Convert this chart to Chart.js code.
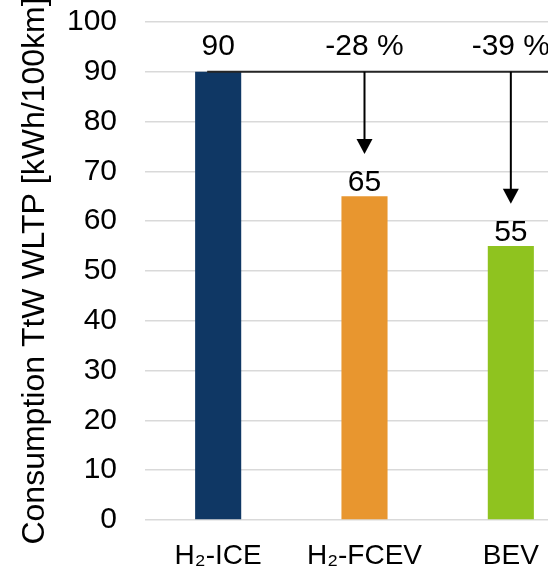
<!DOCTYPE html>
<html>
<head>
<meta charset="utf-8">
<script src="https://cdn.jsdelivr.net/npm/chart.js@4/dist/chart.umd.min.js"></script>
<style>
    html, body { margin: 0; padding: 0; background: #fff; overflow: hidden; }
    #clip { width: 548px; height: 574px; overflow: hidden; position: relative; }
    #wrap { width: 584px; height: 574px; position: absolute; left: 0; top: 0; }
</style>
</head>
<body>
<div id="clip"><div id="wrap"><canvas id="chart"></canvas></div></div>
<script>
const categories = ['H\u2082-ICE', 'H\u2082-FCEV', 'BEV']
const consumption = [90, 65, 55]
const reductionLabels = ['', '-28 %', '-39 %']
const barColors = ['#0f3764', '#e8962f', '#8fc31f']
const yTicks = [0, 10, 20, 30, 40, 50, 60, 70, 80, 90, 100]

const FONT = 'Arial, "Liberation Sans", sans-serif'

// reference line at the H2-ICE value, arrows and labels
const annotations = {
    id: 'annotations',
    afterDatasetsDraw(chart) {
        const {ctx, scales: {y}} = chart
        const meta = chart.getDatasetMeta(0)
        const yBase = y.getPixelForValue(consumption[0])

        ctx.save()
        ctx.strokeStyle = '#262626'
        ctx.lineWidth = 2
        ctx.beginPath()
        ctx.moveTo(meta.data[0].x - 11, yBase)
        ctx.lineTo(chart.width, yBase)
        ctx.stroke()

        ctx.fillStyle = '#000'
        ctx.font = '30px ' + FONT
        ctx.textAlign = 'center'
        ctx.textBaseline = 'alphabetic'

        meta.data.forEach((bar, i) => {
            const v = consumption[i]
            if (i === 0) {
                ctx.fillText(String(v), bar.x, yBase - 17)
                return
            }
            // arrow down towards the bar
            const tip = y.getPixelForValue(v + 8.5)
            ctx.strokeStyle = '#000'
            ctx.lineWidth = 2
            ctx.beginPath()
            ctx.moveTo(bar.x, yBase)
            ctx.lineTo(bar.x, tip - 12)
            ctx.stroke()
            ctx.beginPath()
            ctx.moveTo(bar.x - 8, tip - 15)
            ctx.lineTo(bar.x + 8, tip - 15)
            ctx.lineTo(bar.x, tip)
            ctx.closePath()
            ctx.fill()

            ctx.fillText(reductionLabels[i], bar.x, yBase - 17)
            ctx.fillText(String(v), bar.x, bar.y - 5)
        })
        ctx.restore()
    }
}

new Chart(document.getElementById('chart'), {
    type: 'bar',
    data: {
        labels: categories,
        datasets: [{
            data: consumption,
            backgroundColor: barColors,
            categoryPercentage: 1,
            barPercentage: 0.315
        }]
    },
    options: {
        responsive: true,
        maintainAspectRatio: false,
        animation: false,
        layout: {padding: {top: 1, right: 0, left: 0, bottom: 0}},
        plugins: {
            legend: {display: false},
            tooltip: {enabled: false}
        },
        scales: {
            x: {
                grid: {display: false, drawTicks: false},
                border: {display: false},
                afterFit: (axis) => { axis.height = 54 },
                ticks: {
                    color: '#000',
                    font: {family: FONT, size: 28},
                    padding: 19
                }
            },
            y: {
                min: 0,
                max: 100,
                afterBuildTicks: (axis) => { axis.ticks = yTicks.map(v => ({value: v})) },
                afterFit: (axis) => {
                    axis.width = 145
                    axis.paddingTop = 22
                },
                grid: {color: '#d9d9d9', lineWidth: 1.5, drawTicks: false},
                border: {display: false},
                ticks: {
                    color: '#000',
                    font: {family: FONT, size: 30},
                    padding: 28
                },
                title: {
                    display: true,
                    text: 'Consumption TtW WLTP [kWh/100km]',
                    color: '#000',
                    font: {family: FONT, size: 32},
                    padding: {top: 16, bottom: 0}
                }
            }
        }
    },
    plugins: [annotations]
})
</script>
</body>
</html>
